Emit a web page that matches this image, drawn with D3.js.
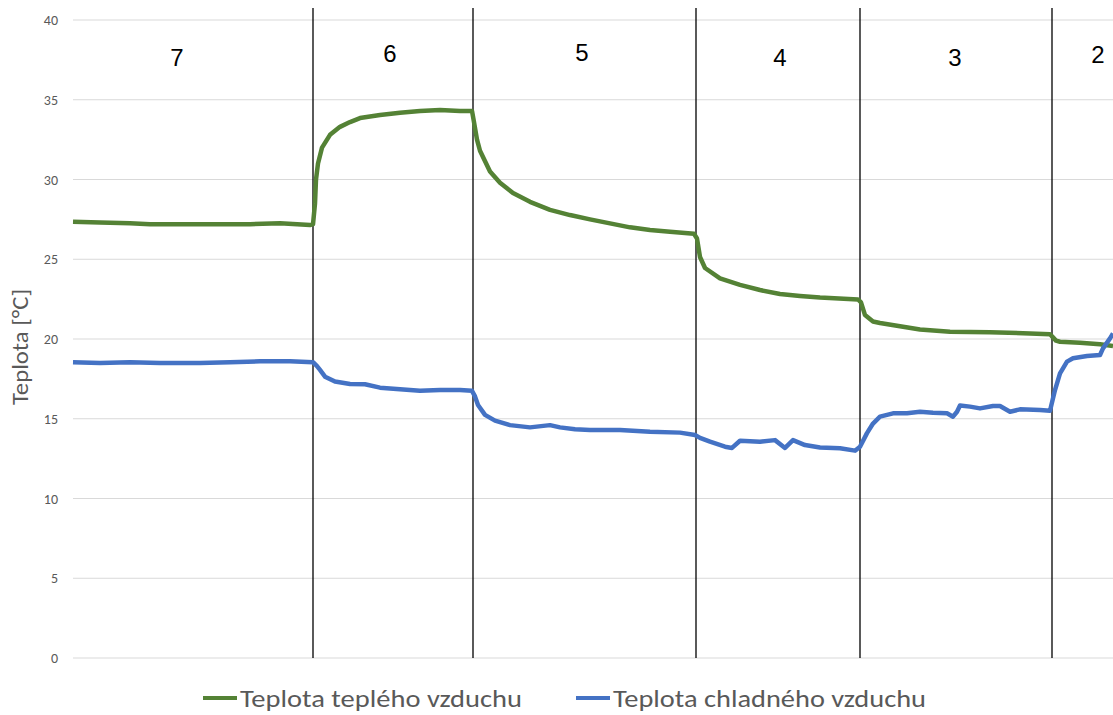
<!DOCTYPE html>
<html>
<head>
<meta charset="utf-8">
<script src="https://cdn.jsdelivr.net/npm/d3@7"></script>
<style>
  body { margin: 0; background: #fff; }
  svg { display: block; }
</style>
</head>
<body>
<svg id="chart"></svg>
<script>
// time axis (samples) and temperatures
var warmT = [0, 27, 57, 77, 127, 177, 207, 237, 240, 242, 243, 245, 249, 257, 267, 277, 287, 307, 327, 347, 367, 387, 399,
  401, 404, 407, 417, 427, 440, 457, 477, 497, 517, 537, 557, 577, 597, 621, 624, 627, 632, 647, 667, 687, 707, 727, 747,
  785, 788, 792, 800, 807, 827, 847, 877, 917, 957, 977, 980, 983, 987, 1007, 1027, 1040];
var warmTemp = [27.35, 27.3, 27.25, 27.2, 27.2, 27.2, 27.25, 27.15, 27.2, 28.5, 30.0, 31.0, 32.0, 32.8, 33.3, 33.6, 33.85, 34.04, 34.19, 34.3, 34.35, 34.3, 34.3,
  33.6, 32.5, 31.8, 30.5, 29.8, 29.15, 28.6, 28.1, 27.77, 27.5, 27.25, 27.0, 26.83, 26.73, 26.6, 26.3, 25.14, 24.45, 23.8, 23.39, 23.07, 22.82, 22.7, 22.6,
  22.48, 22.3, 21.5, 21.1, 21.0, 20.8, 20.6, 20.46, 20.42, 20.35, 20.3, 20.1, 19.9, 19.83, 19.77, 19.67, 19.56];

var coldT = [0, 27, 57, 87, 127, 157, 187, 217, 240, 244, 247, 252, 262, 277, 292, 307, 327, 347, 367, 387, 399,
  402, 405, 412, 422, 437, 457, 477, 487, 502, 517, 547, 577, 607, 622, 627, 637, 652, 659, 667, 687, 702, 712, 720, 732, 747, 767,
  782, 787, 794, 800, 807, 820, 834, 847, 860, 874, 880, 884, 887, 897, 907, 920, 927, 937, 947, 967, 977,
  982, 987, 994, 1000, 1014, 1027, 1030, 1037, 1040];
var coldTemp = [18.55, 18.5, 18.55, 18.5, 18.5, 18.55, 18.6, 18.6, 18.55, 18.3, 18.06, 17.64, 17.33, 17.18, 17.16, 16.95, 16.85, 16.76, 16.8, 16.8, 16.75,
  16.4, 15.86, 15.24, 14.88, 14.6, 14.46, 14.6, 14.46, 14.34, 14.3, 14.3, 14.19, 14.13, 13.98, 13.8, 13.56, 13.25, 13.17, 13.62, 13.56, 13.66, 13.17, 13.66, 13.35, 13.2, 13.15,
  13.0, 13.25, 14.1, 14.7, 15.13, 15.34, 15.34, 15.44, 15.38, 15.34, 15.13, 15.44, 15.83, 15.76, 15.65, 15.8, 15.8, 15.44, 15.59, 15.55, 15.5,
  16.8, 17.85, 18.58, 18.79, 18.93, 19.0, 19.41, 20.04, 20.35];

var stageBounds = [240, 400, 623, 787, 979];
var stageNames = ["7", "6", "5", "4", "3", "2"];
var stageLabelT = [104, 317, 509, 707, 882, 1025];

var yTicks = [0, 5, 10, 15, 20, 25, 30, 35, 40];
var seriesNames = ["Teplota teplého vzduchu", "Teplota chladného vzduchu"];
var seriesColors = ["#548235", "#4472C4"];

var width = 1113,
  height = 715;

var svg = d3.select("#chart")
  .attr("width", width)
  .attr("height", height)
  .style("font-family", "Calibri, Carlito, 'Open Sans', sans-serif");

var x = d3.scaleLinear().domain([0, 1040]).range([73, 1113]);
var y = d3.scaleLinear().domain([0, 40]).range([658, 20]);

// gridlines
svg.append("g").selectAll("line").data(yTicks)
  .enter().append("line")
  .attr("x1", 73).attr("x2", width)
  .attr("y1", function(d) { return y(d); })
  .attr("y2", function(d) { return y(d); })
  .attr("stroke", "#d9d9d9")
  .attr("stroke-width", 1);

// tick labels
svg.append("g").selectAll("text").data(yTicks)
  .enter().append("text")
  .attr("x", 58)
  .attr("y", function(d) { return y(d) + 5; })
  .attr("text-anchor", "end")
  .attr("fill", "#595959")
  .style("font-size", "14px")
  .text(function(d) { return d; });

// axis title
svg.append("text")
  .attr("transform", "translate(28,347) rotate(-90)")
  .attr("text-anchor", "middle")
  .attr("fill", "#595959")
  .attr("textLength", 116)
  .attr("lengthAdjust", "spacingAndGlyphs")
  .style("font-size", "23px")
  .text("Teplota [°C]");

// stage separators
svg.append("g").selectAll("line").data(stageBounds)
  .enter().append("line")
  .attr("x1", function(d) { return x(d); })
  .attr("x2", function(d) { return x(d); })
  .attr("y1", 8).attr("y2", 658)
  .attr("stroke", "#000")
  .attr("stroke-width", 1.3);

var labelDy = [66, 62, 61, 66, 66, 63];
svg.append("g").selectAll("text").data(stageNames)
  .enter().append("text")
  .attr("x", function(d, i) { return x(stageLabelT[i]); })
  .attr("y", function(d, i) { return labelDy[i]; })
  .attr("text-anchor", "middle")
  .attr("fill", "#000")
  .style("font-family", "'Liberation Sans', Arial, sans-serif")
  .style("font-size", "24px")
  .text(function(d) { return d; });

var line = d3.line()
  .x(function(d) { return x(d[0]); })
  .y(function(d) { return y(d[1]); });

var series = [d3.zip(warmT, warmTemp), d3.zip(coldT, coldTemp)];

svg.append("g").selectAll("path").data(series)
  .enter().append("path")
  .attr("d", line)
  .attr("fill", "none")
  .attr("stroke", function(d, i) { return seriesColors[i]; })
  .attr("stroke-width", 4.5)
  .attr("stroke-linejoin", "round");

// legend
var legendX = [203, 576];
var legendTextW = [282, 313];
var lg = svg.append("g").selectAll("g").data(seriesNames)
  .enter().append("g")
  .attr("transform", function(d, i) { return "translate(" + legendX[i] + ",698)"; });

lg.append("line")
  .attr("x1", 0).attr("x2", 34)
  .attr("stroke", function(d, i) { return seriesColors[i]; })
  .attr("stroke-width", 4);

lg.append("text")
  .attr("x", 37)
  .attr("y", 9)
  .attr("fill", "#595959")
  .attr("textLength", function(d, i) { return legendTextW[i]; })
  .attr("lengthAdjust", "spacingAndGlyphs")
  .style("font-size", "25px")
  .text(function(d) { return d; });
</script>
</body>
</html>
